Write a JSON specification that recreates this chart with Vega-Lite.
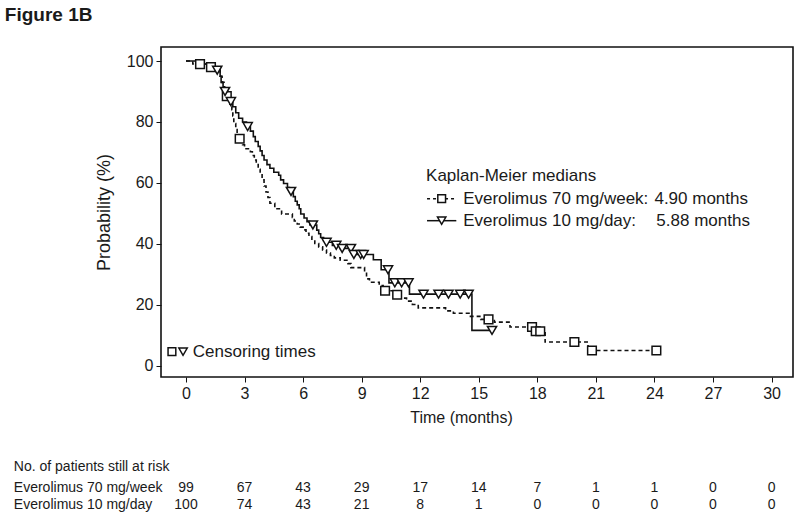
{
  "$schema": "https://vega.github.io/schema/vega-lite/v6.json",
  "width": 632,
  "height": 330,
  "autosize": {"type": "none"},
  "padding": {"left": 161, "top": 47, "right": 7, "bottom": 141},
  "background": "white",
  "config": {
    "view": {"stroke": "#111", "strokeWidth": 1.6},
    "font": "Liberation Sans",
    "axis": {"labelColor": "#1a1a1a", "titleColor": "#1a1a1a", "tickColor": "#111", "grid": false, "domain": false, "labelFont": "Liberation Sans", "titleFont": "Liberation Sans", "titleFontWeight": "normal"},
    "text": {"font": "Liberation Sans", "color": "#1a1a1a"}
  },
  "datasets": {
    "kmA": [
      {"t": 0, "s": 100}, {"t": 0.35, "s": 99}, {"t": 1.1, "s": 98}, {"t": 1.6, "s": 97}, {"t": 1.75, "s": 95},
      {"t": 1.85, "s": 93}, {"t": 1.95, "s": 91}, {"t": 2.05, "s": 88.5}, {"t": 2.15, "s": 87}, {"t": 2.25, "s": 85.5},
      {"t": 2.35, "s": 84}, {"t": 2.4, "s": 82}, {"t": 2.45, "s": 79.5}, {"t": 2.55, "s": 77.5}, {"t": 2.62, "s": 76},
      {"t": 2.7, "s": 74.5}, {"t": 2.9, "s": 72.5}, {"t": 3.0, "s": 71.2}, {"t": 3.3, "s": 70.2}, {"t": 3.4, "s": 69},
      {"t": 3.5, "s": 67.5}, {"t": 3.6, "s": 66}, {"t": 3.7, "s": 64.5}, {"t": 3.8, "s": 63}, {"t": 3.9, "s": 61},
      {"t": 4.0, "s": 59}, {"t": 4.1, "s": 57}, {"t": 4.2, "s": 55.2}, {"t": 4.3, "s": 53.3}, {"t": 4.55, "s": 51.5},
      {"t": 4.9, "s": 49.8}, {"t": 5.45, "s": 48.7}, {"t": 5.55, "s": 47.5}, {"t": 5.7, "s": 46.5}, {"t": 5.85, "s": 45.5},
      {"t": 6.0, "s": 44.6}, {"t": 6.15, "s": 43.5}, {"t": 6.3, "s": 42.4}, {"t": 6.45, "s": 41.2}, {"t": 6.6, "s": 40.1},
      {"t": 6.8, "s": 39}, {"t": 7.0, "s": 38}, {"t": 7.2, "s": 37}, {"t": 7.4, "s": 36.2}, {"t": 7.6, "s": 35.4},
      {"t": 7.9, "s": 34.6}, {"t": 8.3, "s": 33.5}, {"t": 8.45, "s": 32.2}, {"t": 9.15, "s": 31.2}, {"t": 9.25, "s": 28.5},
      {"t": 9.4, "s": 27.4}, {"t": 9.9, "s": 26.3}, {"t": 10.1, "s": 24.6}, {"t": 10.7, "s": 23.3}, {"t": 11.0, "s": 22.2},
      {"t": 11.3, "s": 21.2}, {"t": 11.6, "s": 20.1}, {"t": 11.9, "s": 19.0}, {"t": 13.3, "s": 18.0}, {"t": 13.7, "s": 17.2},
      {"t": 14.5, "s": 16.2}, {"t": 15.1, "s": 15.2}, {"t": 15.8, "s": 14.3}, {"t": 16.6, "s": 12.7}, {"t": 17.85, "s": 11.3},
      {"t": 18.4, "s": 7.8}, {"t": 20.6, "s": 5.0}, {"t": 24.1, "s": 5.0}
    ],
    "kmB": [
      {"t": 0, "s": 100}, {"t": 0.8, "s": 99}, {"t": 1.3, "s": 98}, {"t": 1.55, "s": 97}, {"t": 1.75, "s": 95},
      {"t": 1.8, "s": 93}, {"t": 1.9, "s": 91.5}, {"t": 1.98, "s": 90}, {"t": 2.1, "s": 89}, {"t": 2.2, "s": 88},
      {"t": 2.28, "s": 86.7}, {"t": 2.4, "s": 85}, {"t": 2.55, "s": 83}, {"t": 2.7, "s": 81.2}, {"t": 2.9, "s": 80},
      {"t": 3.1, "s": 78.5}, {"t": 3.3, "s": 77}, {"t": 3.45, "s": 75.2}, {"t": 3.55, "s": 73.6}, {"t": 3.7, "s": 72},
      {"t": 3.8, "s": 70.5}, {"t": 3.9, "s": 69}, {"t": 4.0, "s": 67.5}, {"t": 4.15, "s": 66}, {"t": 4.3, "s": 64.8},
      {"t": 4.5, "s": 63.5}, {"t": 4.75, "s": 62.5}, {"t": 4.85, "s": 61}, {"t": 5.0, "s": 59.8}, {"t": 5.2, "s": 58.5},
      {"t": 5.3, "s": 57.2}, {"t": 5.5, "s": 55.5}, {"t": 5.6, "s": 54}, {"t": 5.7, "s": 52.8}, {"t": 5.8, "s": 51.5},
      {"t": 5.88, "s": 49.8}, {"t": 6.05, "s": 48.5}, {"t": 6.2, "s": 47.3}, {"t": 6.35, "s": 46.2}, {"t": 6.7, "s": 44.5},
      {"t": 6.8, "s": 43.3}, {"t": 6.9, "s": 42.1}, {"t": 7.05, "s": 41}, {"t": 7.15, "s": 40.5}, {"t": 7.5, "s": 39.5},
      {"t": 7.9, "s": 38.5}, {"t": 8.52, "s": 36.5}, {"t": 9.6, "s": 34.8}, {"t": 10.0, "s": 31.5}, {"t": 10.4, "s": 27.2},
      {"t": 11.45, "s": 23.5}, {"t": 14.65, "s": 11.6}, {"t": 15.68, "s": 11.6}
    ],
    "censA": [
      {"t": 0.72, "s": 99}, {"t": 1.28, "s": 98}, {"t": 2.09, "s": 88.5}, {"t": 2.75, "s": 74.5}, {"t": 10.2, "s": 24.6},
      {"t": 10.82, "s": 23.3}, {"t": 15.5, "s": 15.2}, {"t": 17.73, "s": 12.7}, {"t": 17.92, "s": 11.3}, {"t": 18.15, "s": 11.3},
      {"t": 19.9, "s": 7.8}, {"t": 20.8, "s": 5.0}, {"t": 24.1, "s": 5.0}
    ],
    "censB": [
      {"t": 1.6, "s": 97}, {"t": 2.0, "s": 90}, {"t": 2.3, "s": 86.7}, {"t": 3.16, "s": 78.5}, {"t": 5.38, "s": 57.2},
      {"t": 6.5, "s": 46.2}, {"t": 7.2, "s": 40.5}, {"t": 7.7, "s": 39.5}, {"t": 8.0, "s": 38.5}, {"t": 8.45, "s": 38.5},
      {"t": 8.6, "s": 36.5}, {"t": 8.95, "s": 36.5}, {"t": 9.1, "s": 36.5}, {"t": 10.35, "s": 31.5}, {"t": 10.7, "s": 27.2},
      {"t": 11.05, "s": 27.2}, {"t": 11.4, "s": 27.2}, {"t": 12.17, "s": 23.5}, {"t": 12.94, "s": 23.5}, {"t": 13.45, "s": 23.5},
      {"t": 14.05, "s": 23.5}, {"t": 14.48, "s": 23.5}, {"t": 15.68, "s": 11.6}
    ],
    "riskA": [
      {"t": 0, "n": "99"}, {"t": 3, "n": "67"}, {"t": 6, "n": "43"}, {"t": 9, "n": "29"}, {"t": 12, "n": "17"},
      {"t": 15, "n": "14"}, {"t": 18, "n": "7"}, {"t": 21, "n": "1"}, {"t": 24, "n": "1"}, {"t": 27, "n": "0"}, {"t": 30, "n": "0"}
    ],
    "riskB": [
      {"t": 0, "n": "100"}, {"t": 3, "n": "74"}, {"t": 6, "n": "43"}, {"t": 9, "n": "21"}, {"t": 12, "n": "8"},
      {"t": 15, "n": "1"}, {"t": 18, "n": "0"}, {"t": 21, "n": "0"}, {"t": 24, "n": "0"}, {"t": 27, "n": "0"}, {"t": 30, "n": "0"}
    ],
    "one": [{"k": 1}]
  },
  "layer": [
    {"data": {"name": "kmA"}, "mark": {"type": "line", "interpolate": "step-after", "color": "#111", "strokeWidth": 1.6, "strokeDash": [4, 3]},
      "encoding": {
        "x": {"field": "t", "type": "quantitative", "scale": {"domain": [-1.28, 31.1], "nice": false, "zero": false},
          "axis": {"values": [0, 3, 6, 9, 12, 15, 18, 21, 24, 27, 30], "title": "Time (months)", "tickSize": 5, "labelFontSize": 16, "titleFontSize": 16, "labelPadding": 3, "titlePadding": 8, "titleX": 300}},
        "y": {"field": "s", "type": "quantitative", "scale": {"domain": [-3.7, 104.6], "nice": false, "zero": false},
          "axis": {"values": [0, 20, 40, 60, 80, 100], "title": "Probability (%)", "tickSize": 5, "labelFontSize": 16, "titleFontSize": 18, "labelPadding": 3, "titlePadding": 13}}
      }},
    {"data": {"name": "kmB"}, "mark": {"type": "line", "interpolate": "step-after", "color": "#111", "strokeWidth": 1.6},
      "encoding": {"x": {"field": "t", "type": "quantitative"}, "y": {"field": "s", "type": "quantitative"}}},
    {"data": {"name": "censA"}, "mark": {"type": "point", "shape": "square", "size": 75, "filled": true, "fill": "white", "stroke": "#111", "strokeWidth": 1.5, "opacity": 1},
      "encoding": {"x": {"field": "t", "type": "quantitative"}, "y": {"field": "s", "type": "quantitative"}}},
    {"data": {"name": "censB"}, "mark": {"type": "point", "shape": "triangle-down", "size": 85, "filled": true, "fill": "white", "stroke": "#111", "strokeWidth": 1.5, "opacity": 1},
      "encoding": {"x": {"field": "t", "type": "quantitative"}, "y": {"field": "s", "type": "quantitative"}}},
    {"data": {"name": "one"}, "mark": {"type": "text", "align": "left", "baseline": "middle", "fontSize": 17, "text": "Kaplan-Meier medians"},
      "encoding": {"x": {"datum": 12.3, "type": "quantitative"}, "y": {"datum": 62.4, "type": "quantitative"}}},
    {"data": {"name": "one"}, "mark": {"type": "rule", "color": "#111", "strokeWidth": 1.5, "strokeDash": [3, 3]},
      "encoding": {"x": {"datum": 12.35, "type": "quantitative"}, "x2": {"datum": 13.85}, "y": {"datum": 54.8, "type": "quantitative"}}},
    {"data": {"name": "one"}, "mark": {"type": "rule", "color": "#111", "strokeWidth": 1.5},
      "encoding": {"x": {"datum": 12.35, "type": "quantitative"}, "x2": {"datum": 13.85}, "y": {"datum": 47.6, "type": "quantitative"}}},
    {"data": {"name": "one"}, "mark": {"type": "point", "shape": "square", "size": 60, "filled": true, "fill": "white", "stroke": "#111", "strokeWidth": 1.5, "opacity": 1},
      "encoding": {"x": {"datum": 13.1, "type": "quantitative"}, "y": {"datum": 54.8, "type": "quantitative"}}},
    {"data": {"name": "one"}, "mark": {"type": "point", "shape": "triangle-down", "size": 70, "filled": true, "fill": "white", "stroke": "#111", "strokeWidth": 1.5, "opacity": 1},
      "encoding": {"x": {"datum": 13.1, "type": "quantitative"}, "y": {"datum": 47.6, "type": "quantitative"}}},
    {"data": {"name": "one"}, "mark": {"type": "text", "align": "left", "baseline": "middle", "fontSize": 17, "text": "Everolimus 70 mg/week:"},
      "encoding": {"x": {"datum": 14.2, "type": "quantitative"}, "y": {"datum": 54.8, "type": "quantitative"}}},
    {"data": {"name": "one"}, "mark": {"type": "text", "align": "left", "baseline": "middle", "fontSize": 17, "text": "Everolimus 10 mg/day:"},
      "encoding": {"x": {"datum": 14.2, "type": "quantitative"}, "y": {"datum": 47.6, "type": "quantitative"}}},
    {"data": {"name": "one"}, "mark": {"type": "text", "align": "left", "baseline": "middle", "fontSize": 17, "text": "4.90 months"},
      "encoding": {"x": {"datum": 24.0, "type": "quantitative"}, "y": {"datum": 54.8, "type": "quantitative"}}},
    {"data": {"name": "one"}, "mark": {"type": "text", "align": "left", "baseline": "middle", "fontSize": 17, "text": "5.88 months"},
      "encoding": {"x": {"datum": 24.1, "type": "quantitative"}, "y": {"datum": 47.6, "type": "quantitative"}}},
    {"data": {"name": "one"}, "mark": {"type": "point", "shape": "square", "size": 60, "filled": true, "fill": "white", "stroke": "#111", "strokeWidth": 1.5, "opacity": 1},
      "encoding": {"x": {"datum": -0.72, "type": "quantitative"}, "y": {"datum": 4.6, "type": "quantitative"}}},
    {"data": {"name": "one"}, "mark": {"type": "point", "shape": "triangle-down", "size": 70, "filled": true, "fill": "white", "stroke": "#111", "strokeWidth": 1.5, "opacity": 1},
      "encoding": {"x": {"datum": -0.15, "type": "quantitative"}, "y": {"datum": 4.6, "type": "quantitative"}}},
    {"data": {"name": "one"}, "mark": {"type": "text", "align": "left", "baseline": "middle", "fontSize": 17, "text": "Censoring times"},
      "encoding": {"x": {"datum": 0.35, "type": "quantitative"}, "y": {"datum": 4.6, "type": "quantitative"}}},
    {"data": {"name": "one"}, "mark": {"type": "text", "align": "left", "baseline": "middle", "fontSize": 19, "fontWeight": "bold", "text": "Figure 1B"},
      "encoding": {"x": {"datum": -9.28, "type": "quantitative"}, "y": {"datum": 115.1, "type": "quantitative"}}},
    {"data": {"name": "one"}, "mark": {"type": "text", "align": "left", "baseline": "middle", "fontSize": 14, "text": "No. of patients still at risk"},
      "encoding": {"x": {"datum": -8.82, "type": "quantitative"}, "y": {"datum": -33.4, "type": "quantitative"}}},
    {"data": {"name": "one"}, "mark": {"type": "text", "align": "left", "baseline": "middle", "fontSize": 14, "text": "Everolimus 70 mg/week"},
      "encoding": {"x": {"datum": -8.82, "type": "quantitative"}, "y": {"datum": -40.0, "type": "quantitative"}}},
    {"data": {"name": "one"}, "mark": {"type": "text", "align": "left", "baseline": "middle", "fontSize": 14, "text": "Everolimus 10 mg/day"},
      "encoding": {"x": {"datum": -8.82, "type": "quantitative"}, "y": {"datum": -45.6, "type": "quantitative"}}},
    {"data": {"name": "riskA"}, "mark": {"type": "text", "align": "center", "baseline": "middle", "fontSize": 14},
      "encoding": {"x": {"field": "t", "type": "quantitative"}, "y": {"datum": -40.0, "type": "quantitative"}, "text": {"field": "n"}}},
    {"data": {"name": "riskB"}, "mark": {"type": "text", "align": "center", "baseline": "middle", "fontSize": 14},
      "encoding": {"x": {"field": "t", "type": "quantitative"}, "y": {"datum": -45.6, "type": "quantitative"}, "text": {"field": "n"}}}
  ]
}
